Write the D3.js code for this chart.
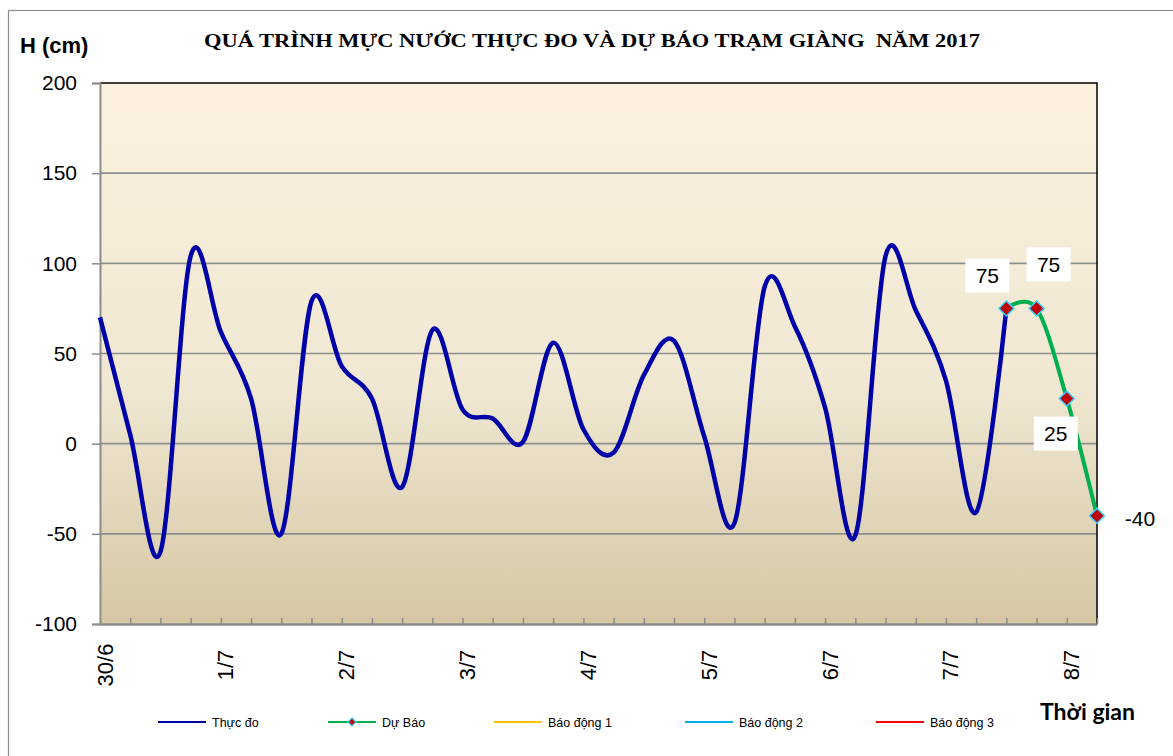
<!DOCTYPE html>
<html>
<head>
<meta charset="utf-8">
<script src="https://cdn.jsdelivr.net/npm/d3@7"></script>
<style>
body{margin:0;background:#fff;}
svg text{font-family:Arial,"Liberation Sans",sans-serif;}
</style>
</head>
<body>
<div id="ChartPart"></div>
<script>
//Data -----------------------------------------------------------------------------------------------
var dayLabels = ["30/6","1/7","2/7","3/7","4/7","5/7","6/7","7/7","8/7"];
var hours = ["00h","06h","12h","18h"];
// measured water level, every 6 hours from 30/6 00h to 7/7 12h
var thucDo = [70,5,-60,104,62,25,-50,79,43,25,-24,63,19,14,1,56,8,-5,38,57,4,-44,87,65,20,-51,104,74,35,-38,75];
// forecast from 7/7 12h to 8/7 06h
var duBao = [75,75,25,-40];
var duBaoStart = 30;
var yTicks = [-100,-50,0,50,100,150,200];
var legendNames = ["Thực đo","Dự Báo","Báo động 1","Báo động 2","Báo động 3"];
var legendColors = ["#0000a8","#00b050","#ffc000","#00b0f0","#ff0000"];

//Categories (every 6 hours)
var categories = [];
for(var d=0;d<dayLabels.length;d++)
{
	for(var h=0;h<hours.length;h++)
	{
		categories.push(dayLabels[d] + " " + hours[h]);
	}
}
categories = categories.slice(0, duBaoStart + duBao.length);

var W = 1173, H = 756;
var PlotLeft = 100, PlotRight = 1097, PlotTop = 83, PlotBottom = 624;

var svg = d3.select("#ChartPart").append("svg")
	.attr("width",W)
	.attr("height",H);

//outer frame
svg.append("rect")
	.attr("x",8.5).attr("y",10.5)
	.attr("width",W).attr("height",H)
	.attr("fill","#fff")
	.attr("stroke","#8c8c8c")
	.attr("stroke-width",1.2);

var defs = svg.append("defs");
var grad = defs.append("linearGradient")
	.attr("id","PlotFill")
	.attr("x1",0).attr("y1",0).attr("x2",0).attr("y2",1);
grad.append("stop").attr("offset","0%").attr("stop-color","#fbf1de");
grad.append("stop").attr("offset","55%").attr("stop-color","#f0e8d3");
grad.append("stop").attr("offset","100%").attr("stop-color","#d5c7a4");

//Scales
var x = d3.scaleLinear().domain([0, categories.length - 1]).range([PlotLeft, PlotRight]);
var y = d3.scaleLinear().domain([-100,200]).range([PlotBottom, PlotTop]);

//Plot background
svg.append("rect")
	.attr("x",PlotLeft).attr("y",PlotTop)
	.attr("width",PlotRight-PlotLeft).attr("height",PlotBottom-PlotTop)
	.attr("fill","url(#PlotFill)");

//Grid lines
svg.append("g")
	.selectAll("line")
	.data(yTicks.filter(function(t){return t>-100 && t<200;}))
	.enter()
	.append("line")
	.attr("x1",PlotLeft).attr("x2",PlotRight)
	.attr("y1",function(t){return y(t);})
	.attr("y2",function(t){return y(t);})
	.attr("stroke","#8f8f8f")
	.attr("stroke-width",1.6);

//Top and right border
svg.append("path")
	.attr("d","M" + PlotLeft + "," + PlotTop + "H" + PlotRight + "V" + PlotBottom)
	.attr("fill","none")
	.attr("stroke","#000")
	.attr("stroke-width",1.5);

//Y axis
var yAxis = svg.append("g")
	.attr("transform","translate(" + PlotLeft + ",0)")
	.call(d3.axisLeft(y).tickValues(yTicks).tickSize(8).tickPadding(15)
		.tickFormat(function(t){return String(t);}));
yAxis.select(".domain").attr("stroke","#8c8c8c").attr("stroke-width",2);
yAxis.selectAll(".tick line").attr("stroke","#8c8c8c").attr("stroke-width",1.5);
yAxis.selectAll("text")
	.style("font-size","21px")
	.style("font-family","Arial, 'Liberation Sans', sans-serif")
	.attr("fill","#000");

//X axis
var xAxis = svg.append("g")
	.attr("transform","translate(0," + PlotBottom + ")")
	.call(d3.axisBottom(x)
		.tickValues(d3.range(categories.length))
		.tickSizeInner(-6)
		.tickSizeOuter(0)
		.tickFormat(function(i){
			if(i % hours.length == 0)
			{
				return dayLabels[i / hours.length];
			}
			return "";
		}));
xAxis.select(".domain").attr("stroke","#8c8c8c").attr("stroke-width",2.5);
xAxis.selectAll(".tick line").attr("stroke","#8c8c8c").attr("stroke-width",1.5);
xAxis.selectAll("text")
	.attr("transform","rotate(-90)")
	.attr("x",-41)
	.attr("y",12)
	.attr("dy",0)
	.style("text-anchor","middle")
	.style("font-size","22px")
	.style("font-family","Arial, 'Liberation Sans', sans-serif")
	.attr("fill","#000");

//Lines
var smoothLine = d3.line()
	.x(function(d){return x(d.i);})
	.y(function(d){return y(d.v);})
	.curve(d3.curveCatmullRom.alpha(0));

var thucDoPoints = thucDo.map(function(v,i){return {i:i, v:v};});
var duBaoPoints = duBao.map(function(v,i){return {i:i + duBaoStart, v:v};});

svg.append("path")
	.datum(thucDoPoints)
	.attr("d",smoothLine)
	.attr("fill","none")
	.attr("stroke",legendColors[0])
	.attr("stroke-width",4.5)
	.attr("stroke-linejoin","round");

svg.append("path")
	.datum(duBaoPoints)
	.attr("d",smoothLine)
	.attr("fill","none")
	.attr("stroke",legendColors[1])
	.attr("stroke-width",4)
	.attr("stroke-linejoin","round");

var diamond = d3.symbol().type(d3.symbolDiamond2).size(140);
svg.append("g")
	.selectAll("path")
	.data(duBaoPoints)
	.enter()
	.append("path")
	.attr("d",diamond)
	.attr("transform",function(d){return "translate(" + x(d.i) + "," + y(d.v) + ")";})
	.attr("fill","#c00000")
	.attr("stroke","#33ccff")
	.attr("stroke-width",1.5);

//Data labels for forecast (offset from each point)
var labelOffsets = [[-19,-33],[12,-44],[-11,35],[43,3]];
var labelG = svg.append("g")
	.selectAll("g")
	.data(duBaoPoints)
	.enter()
	.append("g")
	.attr("transform",function(d,i){
		return "translate(" + (x(d.i) + labelOffsets[i][0]) + "," + (y(d.v) + labelOffsets[i][1]) + ")";
	});
labelG.append("rect")
	.attr("x",-22).attr("y",-17)
	.attr("width",44).attr("height",34)
	.attr("fill","#fff");
labelG.append("text")
	.attr("text-anchor","middle")
	.attr("dy","0.36em")
	.style("font-size","21px")
	.text(function(d){return d.v;});

//Title and axis names
svg.append("text")
	.attr("x",204).attr("y",47)
	.attr("textLength",776)
	.attr("lengthAdjust","spacingAndGlyphs")
	.style("white-space","pre")
	.style("font-family","'Liberation Serif','Times New Roman',serif")
	.style("font-weight","bold")
	.style("font-size","18px")
	.text("QUÁ TRÌNH MỰC NƯỚC THỰC ĐO VÀ DỰ BÁO TRẠM GIÀNG  NĂM 2017");

svg.append("text")
	.attr("x",20).attr("y",53)
	.style("font-weight","bold")
	.style("font-size","22px")
	.text("H (cm)");

svg.append("text")
	.attr("x",1040).attr("y",720)
	.style("font-family","Lato, 'Open Sans', sans-serif")
	.style("font-weight","bold")
	.style("font-size","23px")
	.text("Thời gian");

//Legend
var legendX = [158,328,494,685,876];
var legend = svg.append("g")
	.selectAll("g")
	.data(legendNames)
	.enter()
	.append("g")
	.attr("transform",function(d,i){return "translate(" + legendX[i] + ",722)";});
legend.append("line")
	.attr("x1",0).attr("x2",48)
	.attr("stroke",function(d,i){return legendColors[i];})
	.attr("stroke-width",2);
legend.filter(function(d,i){return i==1;})
	.append("path")
	.attr("d",d3.symbol().type(d3.symbolDiamond2).size(40))
	.attr("transform","translate(24,0)")
	.attr("fill","#c00000")
	.attr("stroke","#33ccff")
	.attr("stroke-width",1.2);
legend.append("text")
	.attr("x",54)
	.attr("dy","0.36em")
	.style("font-size","12.5px")
	.text(function(d){return d;});
</script>
</body>
</html>
